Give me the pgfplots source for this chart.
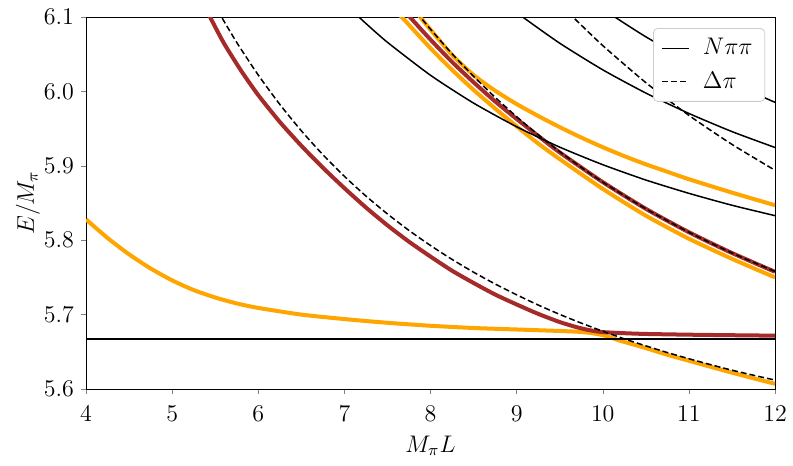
\documentclass[border=0pt]{standalone}
\usepackage{pgfplots}
\pgfplotsset{compat=1.18}
\definecolor{mplorange}{HTML}{FFA500}
\definecolor{mplbrown}{HTML}{A52A2A}
\begin{document}
\begin{tikzpicture}
\begin{axis}[
    scale only axis,
    width=344.5pt, height=186pt,
    xmin=4, xmax=12, ymin=5.6, ymax=6.1,
    xtick={4,5,6,7,8,9,10,11,12},
    ytick={5.6,5.7,5.8,5.9,6.0,6.1},
    yticklabel style={/pgf/number format/fixed, /pgf/number format/fixed zerofill, /pgf/number format/precision=1},
    xticklabel style={yshift=-2.5pt},
    tick label style={font=\large},
    label style={font=\large},
    tick align=outside, major tick length=2.5pt,
    xtick pos=left, ytick pos=left,
    axis line style={line width=0.5pt},
    xlabel={$M_\pi L$}, ylabel={$E/M_\pi$},
    xlabel style={at={(axis description cs:0.5,0)}, anchor=center, yshift=-28.3pt},
    ylabel style={at={(axis description cs:0,0.5)}, anchor=center, yshift=29pt},
    legend cell align=left,
    legend image code/.code={\draw[#1] (0cm,0cm) -- (13.5pt,0cm);},
    legend style={at={(axis cs:11.885,6.085)}, anchor=north east,
        draw=black!20, rounded corners=2pt, font=\fontsize{12.8}{15}\selectfont,
        inner xsep=4pt, inner ysep=3pt, row sep=3pt,
        /tikz/every odd column/.append style={column sep=4.5pt}},
    every axis plot/.append style={smooth, tension=0.4},
]
% interacting levels (orange)
\addplot[mplorange, line width=2pt, forget plot] coordinates {
 (4.0,5.828) (4.25,5.803) (4.5,5.781) (4.75,5.762) (5.0,5.746) (5.25,5.733) (5.5,5.723)
 (5.75,5.715) (6.0,5.709) (6.5,5.700) (7.0,5.694) (7.5,5.689) (8.0,5.685) (8.5,5.682)
 (9.0,5.680) (9.5,5.678) (9.7,5.677) (9.85,5.6755) (10.0,5.6725) (10.1,5.669) (10.2,5.665)
 (10.35,5.660) (10.5,5.655) (10.75,5.646) (11.0,5.638) (11.5,5.622) (12.0,5.607)
};
\addplot[mplorange, line width=2pt, forget plot] coordinates {
 (7.62,6.106) (7.666,6.100) (8.0,6.058) (8.25,6.029) (8.5,6.002) (8.75,5.977) (9.0,5.953)
 (9.25,5.930) (9.5,5.909) (10.0,5.869) (10.5,5.833) (11.0,5.802) (11.5,5.775) (12.0,5.750)
};
\addplot[mplorange, line width=2pt, forget plot] coordinates {
 (7.84,6.106) (7.88,6.100) (8.0,6.083) (8.25,6.049) (8.5,6.022) (8.75,6.001) (9.0,5.983)
 (9.25,5.967) (9.5,5.952) (9.75,5.938) (10.0,5.925) (10.25,5.913) (10.5,5.902) (10.75,5.892)
 (11.0,5.882) (11.5,5.864) (12.0,5.847)
};
% interacting levels (brown)
\addplot[mplbrown, line width=2pt, forget plot] coordinates {
 (5.38,6.113) (5.44,6.100) (5.6,6.065) (5.8,6.028) (6.0,5.995) (6.25,5.959) (6.5,5.927)
 (6.75,5.8975) (7.0,5.870) (7.25,5.844) (7.5,5.820) (7.75,5.798) (8.0,5.778) (8.25,5.759)
 (8.5,5.7425) (8.75,5.727) (9.0,5.7136) (9.25,5.701) (9.5,5.690) (9.7,5.683) (9.85,5.679)
 (10.0,5.6765) (10.25,5.675) (10.5,5.674) (11.0,5.673) (11.5,5.6723) (12.0,5.6717)
};
\addplot[mplbrown, line width=2pt, forget plot] coordinates {
 (7.72,6.105) (7.76,6.100) (8.0,6.0696) (8.25,6.0396) (8.5,6.0123) (8.75,5.9866) (9.0,5.963)
 (9.25,5.9402) (9.5,5.918) (10.0,5.8781) (10.5,5.8422) (11.0,5.8107) (11.5,5.7828) (12.0,5.7575)
};
% N pi pi levels
\addplot[black, line width=0.75pt, sharp plot] coordinates {(4,5.667) (12,5.667)};
\addlegendentry{$N\pi\pi$}
\addplot[black, line width=0.75pt, forget plot] coordinates {
 (7.13,6.104) (7.17,6.0999) (7.25,6.0913) (7.5,6.0660) (8.0,6.0217) (8.5,5.9843) (9.0,5.9525)
 (9.5,5.9251) (10.0,5.9015) (10.5,5.8809) (11.0,5.8630) (11.5,5.8470) (12.0,5.8330)
};
\addplot[black, line width=0.75pt, forget plot] coordinates {
 (9.03,6.104) (9.07,6.100) (9.5,6.0648) (10.0,6.0290) (10.5,5.9978) (11.0,5.9704)
 (11.5,5.9460) (12.0,5.9246)
};
\addplot[black, line width=0.75pt, forget plot] coordinates {
 (10.1,6.104) (10.14,6.100) (10.5,6.0734) (11.0,6.0404) (11.5,6.0112) (12.0,5.9853)
};
% Delta pi levels
\addplot[black, line width=0.75pt, dash pattern=on 3pt off 1.5pt] coordinates {
 (5.53,6.109) (5.56,6.1027) (5.75,6.0658) (6.0,6.0220) (6.25,5.9826) (6.5,5.9471)
 (6.75,5.9150) (7.0,5.8859) (7.25,5.8594) (7.5,5.8353) (7.75,5.8131) (8.0,5.7929)
 (8.25,5.7742) (8.5,5.7570) (8.75,5.7412) (9.0,5.7266) (9.25,5.7129) (9.5,5.7003)
 (9.75,5.6886) (10.0,5.6777) (10.25,5.6674) (10.5,5.6580) (10.75,5.6490) (11.0,5.6407)
 (11.25,5.6328) (11.5,5.6253) (11.75,5.6185) (12.0,5.6120)
};
\addlegendentry{$\Delta\pi$}
\addplot[black, line width=0.75pt, dash pattern=on 3pt off 1.5pt, forget plot] coordinates {
 (7.84,6.106) (7.87,6.1016) (8.0,6.0836) (8.25,6.0506) (8.5,6.0203) (8.75,5.9921) (9.0,5.9660)
 (9.25,5.9417) (9.5,5.9190) (9.75,5.8979) (10.0,5.8781) (10.5,5.8422) (11.0,5.8107)
 (11.5,5.7828) (12.0,5.7580)
};
\addplot[black, line width=0.75pt, dash pattern=on 3pt off 1.5pt, forget plot] coordinates {
 (9.6,6.106) (9.64,6.1015) (10.0,6.0616) (10.5,6.0118) (11.0,5.9678) (11.5,5.9288) (12.0,5.8940)
};
\coordinate (ll) at (rel axis cs:0,0);
\coordinate (ur) at (rel axis cs:1,1);
\end{axis}
\pgfresetboundingbox
\useasboundingbox ([shift={(-43pt,-38pt)}]ll) rectangle ([shift={(9pt,8.5pt)}]ur);
\end{tikzpicture}
\end{document}
